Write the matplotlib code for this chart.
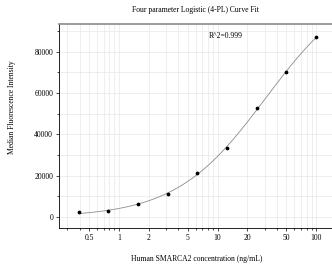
import numpy as np
import matplotlib
matplotlib.use('Agg')
import matplotlib.pyplot as plt
from matplotlib.ticker import LogLocator, FixedLocator, NullFormatter, MultipleLocator

plt.rcParams['font.family'] = ['Liberation Serif', 'DejaVu Serif']

conc = [0.39, 0.78, 1.56, 3.125, 6.25, 12.5, 25, 50, 100]
mfi = [2100, 2760, 6150, 11150, 21200, 33300, 52700, 70000, 87100]
xticks = [0.5, 1, 2, 5, 10, 20, 50, 100]
xticklabels = ['0.5', '1', '2', '5', '10', '20', '50', '100']
title = 'Four parameter Logistic (4-PL) Curve Fit'
r2_text = 'R^2=0.999'

x = np.array(conc)
y = np.array(mfi)

# 4PL fit: grid over slope/midpoint, linear least squares for bottom/top
best = None
for b in np.linspace(0.5, 2.5, 201):
    for c in np.logspace(0, 3, 301):
        g = 1.0 / (1.0 + (x / c) ** b)
        M = np.column_stack([g, 1 - g])
        coef, res, _, _ = np.linalg.lstsq(M, y, rcond=None)
        err = np.sum((M @ coef - y) ** 2)
        if best is None or err < best[0]:
            best = (err, b, c, coef)
_, B, C, (A, D) = best
xs = np.logspace(np.log10(conc[0]), np.log10(conc[-1]), 300)
ys = D + (A - D) / (1 + (xs / C) ** B)

fs = 5.5
fig = plt.figure(figsize=(3.32, 2.7), dpi=100)
ax = fig.add_axes([0.179, 0.157, 0.821, 0.754])
ax.plot(xs, ys, color='#8c8c8c', lw=0.6, zorder=2)
ax.plot(conc, mfi, 'o', color='black', ms=1.7, zorder=3)
ax.set_xscale('log')
ax.set_xlim(0.249, 145)
ax.set_ylim(-5240, 93430)

ax.xaxis.set_major_locator(FixedLocator(xticks))
ax.set_xticklabels(xticklabels)
ax.xaxis.set_minor_locator(LogLocator(base=10, subs=np.arange(1, 10)))
ax.xaxis.set_minor_formatter(NullFormatter())
ax.yaxis.set_major_locator(MultipleLocator(20000))
ax.yaxis.set_minor_locator(MultipleLocator(10000))

ax.grid(True, which='both', color='#e8e8e8', lw=0.5, zorder=0)
ax.set_axisbelow(True)
ax.tick_params(which='both', direction='out', labelsize=fs, width=0.5, pad=2)
ax.tick_params(which='major', length=2.5)
ax.tick_params(which='minor', length=1.5)

ax.spines['right'].set_visible(False)
ax.spines['top'].set_color('#8a8a8a')
ax.spines['top'].set_linewidth(1.2)
ax.spines['left'].set_linewidth(0.6)
ax.spines['bottom'].set_linewidth(0.6)

ax.text(0.549, 0.941, r2_text, transform=ax.transAxes, fontsize=fs, va='center', ha='left')
fig.text(0.59, 1 - 10 / 270, title, fontsize=fs, ha='center', va='center')
fig.text(0.593, 1 - 259 / 270, 'Human SMARCA2 concentration (ng/mL)', fontsize=fs, ha='center', va='center')
fig.text(12.5 / 332, 1 - 107 / 270, 'Median Fluorescence Intensity', fontsize=fs, rotation=90, ha='center', va='center')

fig.savefig('out.png', dpi=100)
